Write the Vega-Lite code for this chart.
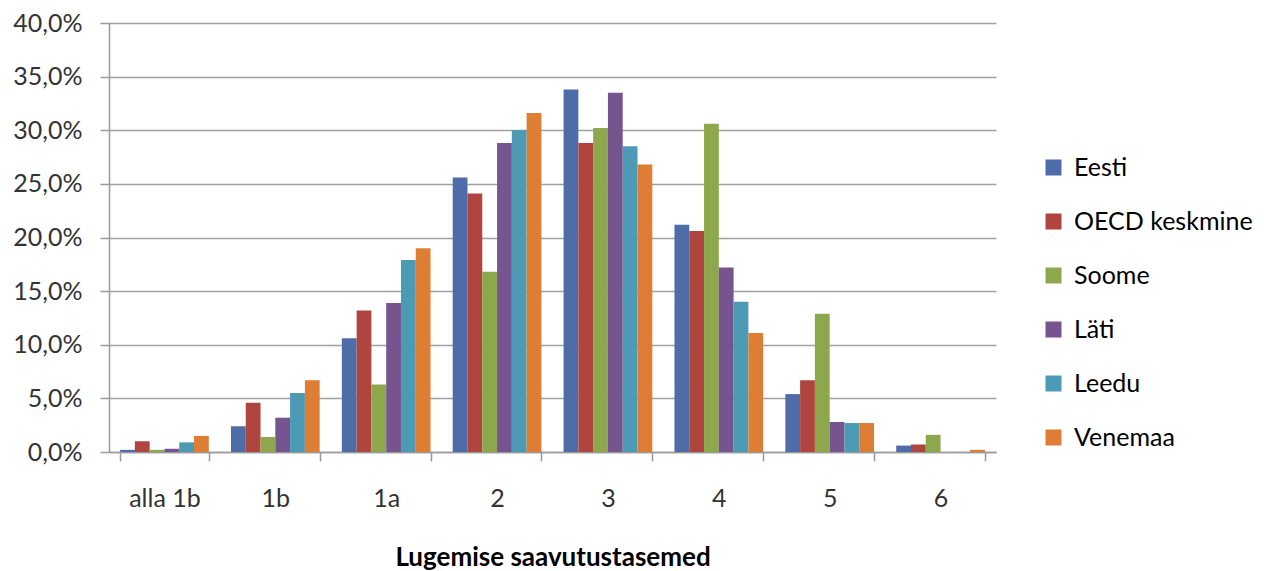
{
  "$schema": "https://vega.github.io/schema/vega-lite/v6.json",
  "width": 887,
  "height": 429,
  "padding": {"left": 12, "top": 11, "right": 0, "bottom": 0},
  "background": "white",
  "config": {
    "view": {"stroke": null},
    "font": "Lato"
  },
  "data": {
    "values": [
      {"tase": "alla 1b", "riik": "Eesti", "osakaal": 0.2},
      {"tase": "alla 1b", "riik": "OECD keskmine", "osakaal": 1.0},
      {"tase": "alla 1b", "riik": "Soome", "osakaal": 0.2},
      {"tase": "alla 1b", "riik": "Läti", "osakaal": 0.3},
      {"tase": "alla 1b", "riik": "Leedu", "osakaal": 0.9},
      {"tase": "alla 1b", "riik": "Venemaa", "osakaal": 1.5},
      {"tase": "1b", "riik": "Eesti", "osakaal": 2.4},
      {"tase": "1b", "riik": "OECD keskmine", "osakaal": 4.6},
      {"tase": "1b", "riik": "Soome", "osakaal": 1.4},
      {"tase": "1b", "riik": "Läti", "osakaal": 3.2},
      {"tase": "1b", "riik": "Leedu", "osakaal": 5.5},
      {"tase": "1b", "riik": "Venemaa", "osakaal": 6.7},
      {"tase": "1a", "riik": "Eesti", "osakaal": 10.6},
      {"tase": "1a", "riik": "OECD keskmine", "osakaal": 13.2},
      {"tase": "1a", "riik": "Soome", "osakaal": 6.3},
      {"tase": "1a", "riik": "Läti", "osakaal": 13.9},
      {"tase": "1a", "riik": "Leedu", "osakaal": 17.9},
      {"tase": "1a", "riik": "Venemaa", "osakaal": 19.0},
      {"tase": "2", "riik": "Eesti", "osakaal": 25.6},
      {"tase": "2", "riik": "OECD keskmine", "osakaal": 24.1},
      {"tase": "2", "riik": "Soome", "osakaal": 16.8},
      {"tase": "2", "riik": "Läti", "osakaal": 28.8},
      {"tase": "2", "riik": "Leedu", "osakaal": 30.0},
      {"tase": "2", "riik": "Venemaa", "osakaal": 31.6},
      {"tase": "3", "riik": "Eesti", "osakaal": 33.8},
      {"tase": "3", "riik": "OECD keskmine", "osakaal": 28.8},
      {"tase": "3", "riik": "Soome", "osakaal": 30.2},
      {"tase": "3", "riik": "Läti", "osakaal": 33.5},
      {"tase": "3", "riik": "Leedu", "osakaal": 28.5},
      {"tase": "3", "riik": "Venemaa", "osakaal": 26.8},
      {"tase": "4", "riik": "Eesti", "osakaal": 21.2},
      {"tase": "4", "riik": "OECD keskmine", "osakaal": 20.6},
      {"tase": "4", "riik": "Soome", "osakaal": 30.6},
      {"tase": "4", "riik": "Läti", "osakaal": 17.2},
      {"tase": "4", "riik": "Leedu", "osakaal": 14.0},
      {"tase": "4", "riik": "Venemaa", "osakaal": 11.1},
      {"tase": "5", "riik": "Eesti", "osakaal": 5.4},
      {"tase": "5", "riik": "OECD keskmine", "osakaal": 6.7},
      {"tase": "5", "riik": "Soome", "osakaal": 12.9},
      {"tase": "5", "riik": "Läti", "osakaal": 2.8},
      {"tase": "5", "riik": "Leedu", "osakaal": 2.7},
      {"tase": "5", "riik": "Venemaa", "osakaal": 2.7},
      {"tase": "6", "riik": "Eesti", "osakaal": 0.6},
      {"tase": "6", "riik": "OECD keskmine", "osakaal": 0.7},
      {"tase": "6", "riik": "Soome", "osakaal": 1.6},
      {"tase": "6", "riik": "Läti", "osakaal": 0.0},
      {"tase": "6", "riik": "Leedu", "osakaal": 0.0},
      {"tase": "6", "riik": "Venemaa", "osakaal": 0.2}
    ]
  },
  "mark": {"type": "bar"},
  "encoding": {
    "x": {
      "field": "tase",
      "type": "nominal",
      "sort": ["alla 1b", "1b", "1a", "2", "3", "4", "5", "6"],
      "scale": {"paddingInner": 0.2, "paddingOuter": 0.1},
      "axis": {
        "title": "Lugemise saavutustasemed",
        "titleFont": "Lato",
        "titleFontSize": 26,
        "titleFontWeight": "bold",
        "titleColor": "#000000",
        "titlePadding": 33,
        "labelAngle": 0,
        "labelFont": "Lato",
        "labelFontSize": 25,
        "labelColor": "#333333",
        "labelPadding": 25,
        "tickBand": "extent",
        "tickSize": 9,
        "tickColor": "#9a9a9a",
        "tickWidth": 1.5,
        "domainColor": "#9a9a9a",
        "domainWidth": 1.5,
        "grid": false
      }
    },
    "xOffset": {
      "field": "riik",
      "type": "nominal",
      "sort": ["Eesti", "OECD keskmine", "Soome", "Läti", "Leedu", "Venemaa"],
      "scale": {"paddingInner": 0, "paddingOuter": 0}
    },
    "y": {
      "field": "osakaal",
      "type": "quantitative",
      "scale": {"domain": [0, 40], "nice": false},
      "axis": {
        "title": null,
        "values": [0, 5, 10, 15, 20, 25, 30, 35, 40],
        "labelExpr": "replace(format(datum.value, '.1f'), '.', ',') + '%'",
        "labelFont": "Lato",
        "labelFontSize": 25,
        "labelColor": "#333333",
        "labelPadding": 18,
        "tickSize": 9,
        "tickColor": "#9a9a9a",
        "tickWidth": 1.5,
        "domainColor": "#9a9a9a",
        "domainWidth": 1.5,
        "grid": true,
        "gridColor": "#a0a0a0",
        "gridWidth": 1.5
      }
    },
    "color": {
      "field": "riik",
      "type": "nominal",
      "sort": ["Eesti", "OECD keskmine", "Soome", "Läti", "Leedu", "Venemaa"],
      "scale": {
        "domain": ["Eesti", "OECD keskmine", "Soome", "Läti", "Leedu", "Venemaa"],
        "range": ["#4E6DA8", "#B0443F", "#8DA84C", "#755490", "#4D9AB4", "#DD7E34"]
      },
      "legend": {
        "title": null,
        "orient": "none",
        "legendX": 932,
        "legendY": 132,
        "symbolType": "square",
        "symbolSize": 256,
        "symbolStrokeWidth": 0,
        "labelFont": "Lato",
        "labelFontSize": 25,
        "labelColor": "#000000",
        "labelOffset": 8,
        "labelLimit": 400,
        "rowPadding": 28
      }
    }
  }
}
